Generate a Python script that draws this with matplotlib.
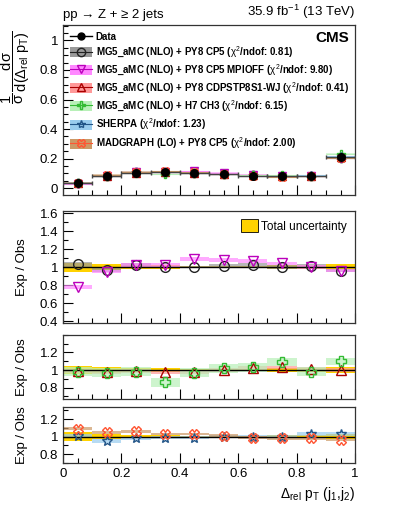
import numpy as np
import matplotlib
matplotlib.use("Agg")
import matplotlib.pyplot as plt
from matplotlib.patches import Patch
from matplotlib.lines import Line2D
from matplotlib.ticker import MultipleLocator

plt.rcParams['font.family'] = ['Liberation Sans', 'DejaVu Sans']
plt.rcParams['mathtext.fontset'] = 'custom'
plt.rcParams['mathtext.rm'] = 'Liberation Sans'
plt.rcParams['mathtext.it'] = 'Liberation Sans'

# --- data -----------------------------------------------------------
bin_edges = np.arange(0, 1.01, 0.1)
data = [0.035, 0.085, 0.105, 0.11, 0.105, 0.095, 0.085, 0.08, 0.085, 0.21]
data_err = [0.003, 0.003, 0.003, 0.003, 0.003, 0.003, 0.003, 0.003, 0.003, 0.006]
tot_unc = [0.05, 0.03, 0.02, 0.02, 0.01, 0.01, 0.01, 0.02, 0.02, 0.03]

r_cp5 = [1.03, 0.97, 1.02, 1.00, 1.00, 1.01, 1.02, 1.00, 1.01, 0.96]
e_cp5 = [0.03, 0.02, 0.02, 0.01, 0.01, 0.02, 0.02, 0.02, 0.02, 0.02]
r_mpioff = [0.78, 0.95, 1.02, 1.02, 1.09, 1.08, 1.07, 1.04, 1.00, 0.96]
e_mpioff = [0.02, 0.02, 0.02, 0.02, 0.02, 0.02, 0.02, 0.02, 0.02, 0.02]
r_cdps = [0.99, 0.98, 0.99, 0.98, 0.98, 1.00, 1.02, 1.03, 1.01, 1.00]
e_cdps = [0.02, 0.02, 0.02, 0.02, 0.02, 0.02, 0.02, 0.02, 0.02, 0.02]
r_h7 = [0.98, 0.97, 0.98, 0.86, 0.97, 1.02, 1.03, 1.09, 0.98, 1.10]
e_h7 = [0.05, 0.05, 0.05, 0.05, 0.05, 0.05, 0.05, 0.05, 0.05, 0.04]
r_sherpa = [1.01, 0.95, 0.98, 0.99, 0.99, 1.00, 1.00, 1.00, 1.03, 1.03]
e_sherpa = [0.02, 0.02, 0.02, 0.02, 0.02, 0.02, 0.02, 0.02, 0.02, 0.02]
r_mg = [1.09, 1.05, 1.06, 1.03, 1.03, 1.01, 0.99, 0.98, 0.98, 0.96]
e_mg = [0.015, 0.015, 0.015, 0.015, 0.015, 0.015, 0.015, 0.015, 0.015, 0.015]

# name, ratio, err, marker, marker color, band color, panel
models = [
    ("MG5_aMC (NLO) + PY8 CP5 ($\\chi^2$/ndof: 0.81)", r_cp5, e_cp5, 'o', '#222222', '#999999', 1),
    ("MG5_aMC (NLO) + PY8 CP5 MPIOFF ($\\chi^2$/ndof: 9.80)", r_mpioff, e_mpioff, 'v', '#bb00bb', '#ff88ff', 1),
    ("MG5_aMC (NLO) + PY8 CDPSTP8S1-WJ ($\\chi^2$/ndof: 0.41)", r_cdps, e_cdps, '^', '#aa0000', '#ff9999', 2),
    ("MG5_aMC (NLO) + H7 CH3 ($\\chi^2$/ndof: 6.15)", r_h7, e_h7, 'P', '#33bb33', '#b8f0b8', 2),
    ("SHERPA ($\\chi^2$/ndof: 1.23)", r_sherpa, e_sherpa, '*', '#225588', '#99ccee', 3),
    ("MADGRAPH (LO) + PY8 CP5 ($\\chi^2$/ndof: 2.00)", r_mg, e_mg, 'X', '#ff5533', '#cc9966', 3),
]

centers = 0.5 * (bin_edges[:-1] + bin_edges[1:])
width = np.diff(bin_edges)
data = np.array(data)

fig = plt.figure(figsize=(3.99, 5.19), dpi=100)
ax0 = fig.add_axes([0.158, 0.624, 0.732, 0.328])
ax1 = fig.add_axes([0.158, 0.378, 0.732, 0.215])
ax2 = fig.add_axes([0.158, 0.231, 0.732, 0.124])
ax3 = fig.add_axes([0.158, 0.108, 0.732, 0.108])
axes = [ax0, ax1, ax2, ax3]

# --- main panel -----------------------------------------------------
for name, r, e, m, mc, bc, p in models:
    pred = data * np.array(r)
    ax0.bar(centers, 2 * 0.004, bottom=pred - 0.004, width=width, color=bc, alpha=0.5, lw=0)
    ax0.hlines(pred, bin_edges[:-1], bin_edges[1:], color=bc, lw=0.8)
    ax0.plot(centers, pred, ls='none', marker=m, ms=6, mfc='none', mec=mc, mew=1)
ax0.errorbar(centers, data, xerr=width / 2, yerr=data_err, fmt='o', color='black',
             ecolor='#444444', elinewidth=1, ms=5.5, capsize=1.5, zorder=10)
ax0.set_ylim(-0.047, 1.105)
ax0.yaxis.set_minor_locator(MultipleLocator(0.05))
ax0.set_yticks([0, 0.2, 0.4, 0.6, 0.8, 1.0])
ax0.set_yticklabels(['0', '0.2', '0.4', '0.6', '0.8', '1'])
ax0.set_ylabel(r'$\dfrac{1}{\sigma}\,\dfrac{d\sigma}{d(\Delta_{rel}\ p_{T})}$', fontsize=10.5, labelpad=2)
ax0.tick_params(labelbottom=False)

handles = [Line2D([], [], color='black', marker='o', ms=5, lw=1)]
labels = ['Data']
for name, r, e, m, mc, bc, p in models:
    handles.append((Patch(facecolor=bc, edgecolor='none'),
                    Line2D([], [], color=mc, marker=m, ms=6, mfc='none', lw=0.8)))
    labels.append(name)
ax0.legend(handles, labels, loc='upper left', bbox_to_anchor=(0.005, 0.995), frameon=False,
           prop={'weight': 'bold', 'size': 7}, handlelength=2.2, handleheight=1.2,
           labelspacing=0.3, handletextpad=0.4, borderaxespad=0.2)
ax0.text(0.98, 0.965, 'CMS', transform=ax0.transAxes, ha='right', va='top',
         fontsize=11, fontweight='bold')
ax0.text(0.0, 1.025, 'pp \u2192 Z + \u2265 2 jets', transform=ax0.transAxes,
         ha='left', va='bottom', fontsize=9.5)
ax0.text(1.0, 1.025, r'35.9 fb$^{-1}$ (13 TeV)', transform=ax0.transAxes,
         ha='right', va='bottom', fontsize=9.5)

# --- ratio panels ---------------------------------------------------
tot_unc = np.array(tot_unc)
for ax in axes[1:]:
    ax.bar(centers, 2 * tot_unc, bottom=1 - tot_unc, width=width, color='#ffd200', lw=0, zorder=1)
    ax.axhline(1, color='black', lw=1, zorder=3)
    ax.set_ylabel('Exp / Obs', fontsize=9.5)

for name, r, e, m, mc, bc, p in models:
    ax = axes[p]
    r = np.array(r)
    e = np.array(e)
    ax.bar(centers, 2 * e, bottom=r - e, width=width, color=bc, alpha=0.7, lw=0, zorder=2)
    ax.plot(centers, r, ls='none', marker=m, ms=7, mfc='none', mec=mc, mew=1, zorder=5)

ax1.set_ylim(0.38, 1.62)
ax1.set_yticks([0.4, 0.6, 0.8, 1.0, 1.2, 1.4, 1.6])
ax1.set_yticklabels(['0.4', '0.6', '0.8', '1', '1.2', '1.4', '1.6'])
ax1.legend([Patch(facecolor='#ffd200', edgecolor='black', lw=0.6)], ['Total uncertainty'],
           loc='upper right', frameon=False, fontsize=8.5, handlelength=1.4, handleheight=1.2,
           handletextpad=0.3, borderaxespad=0.3)
ax2.set_ylim(0.67, 1.40)
ax3.set_ylim(0.70, 1.34)
for ax in (ax2, ax3):
    ax.set_yticks([0.8, 1.0, 1.2])
    ax.set_yticklabels(['0.8', '1', '1.2'])

for ax in axes:
    ax.set_xlim(0, 1)
    ax.xaxis.set_major_locator(MultipleLocator(0.2))
    ax.xaxis.set_minor_locator(MultipleLocator(0.05))
    if ax is not ax0:
        ax.yaxis.set_minor_locator(MultipleLocator(0.1))
    ax.tick_params(which='both', direction='in', top=False, right=False, labelsize=9.5)
    ax.tick_params(which='major', length=7, width=0.8)
    ax.tick_params(which='minor', length=3.5, width=0.8)
    for s in ax.spines.values():
        s.set_linewidth(0.9)
        s.set_color('#333333')
    ax.yaxis.set_label_coords(-0.12, 0.5)
for ax in axes[:-1]:
    ax.tick_params(labelbottom=False)
ax0.yaxis.set_label_coords(-0.105, 0.75)

ax3.set_xticks([0, 0.2, 0.4, 0.6, 0.8, 1.0])
ax3.set_xticklabels(['0', '0.2', '0.4', '0.6', '0.8', '1'])
ax3.set_xlabel(r'$\Delta_{rel}$ p$_{T}$ (j$_{1}$,j$_{2}$)', fontsize=10, ha='right', x=1.0)

fig.savefig('out.png', dpi=100)
